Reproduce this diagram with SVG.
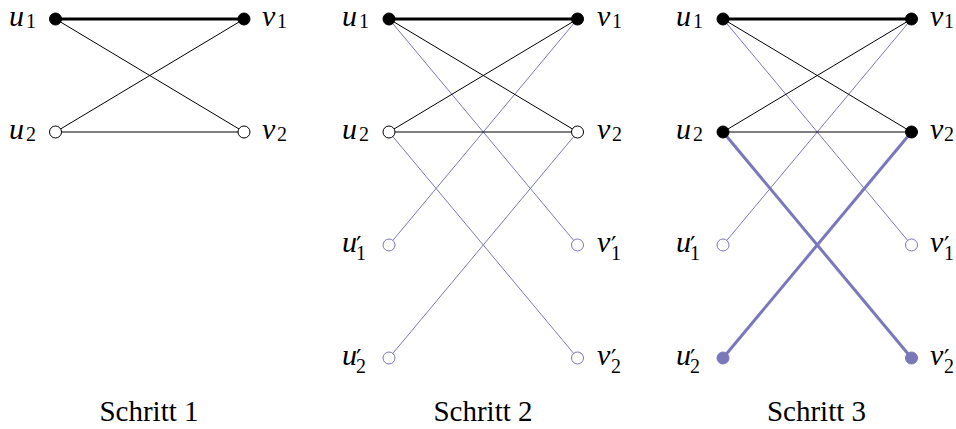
<svg xmlns="http://www.w3.org/2000/svg" width="956" height="429" viewBox="0 0 956 429">
<style>
text{font-family:"Liberation Serif","DejaVu Serif",serif;fill:#000}
.m{font-size:30px;font-style:italic}
.s{font-size:20px;font-style:normal}
.p{font-size:24px;font-style:normal;font-family:"DejaVu Serif",serif}
.cap{font-size:29px;text-anchor:middle}
.e{stroke:#000;stroke-width:1;fill:none}
.eb{stroke:#000;stroke-width:3;fill:none}
.ep{stroke:#7b77bb;stroke-width:1;fill:none}
.epb{stroke:#7b77bb;stroke-width:3;fill:none}
.nf{fill:#000;stroke:#000;stroke-width:1}
.nw{fill:#fff;stroke:#000;stroke-width:1}
.npw{fill:#fff;stroke:#7b77bb;stroke-width:1}
.npf{fill:#7b77bb;stroke:#7b77bb;stroke-width:1}
</style>
<g id="connectors">
<line class="eb" x1="55.5" y1="19" x2="244" y2="19"/>
<line class="e" x1="55.5" y1="19" x2="244" y2="132"/>
<line class="e" x1="55.5" y1="132" x2="244" y2="19"/>
<line class="e" x1="55.5" y1="132" x2="244" y2="132"/>
<line class="ep" x1="389" y1="19" x2="577.5" y2="245"/>
<line class="ep" x1="577.5" y1="19" x2="389" y2="245"/>
<line class="ep" x1="389" y1="132" x2="577.5" y2="358"/>
<line class="ep" x1="577.5" y1="132" x2="389" y2="358"/>
<line class="eb" x1="389" y1="19" x2="577.5" y2="19"/>
<line class="e" x1="389" y1="19" x2="577.5" y2="132"/>
<line class="e" x1="389" y1="132" x2="577.5" y2="19"/>
<line class="e" x1="389" y1="132" x2="577.5" y2="132"/>
<line class="ep" x1="723" y1="19" x2="911.5" y2="245"/>
<line class="ep" x1="911.5" y1="19" x2="723" y2="245"/>
<line class="epb" x1="723" y1="132" x2="911.5" y2="358"/>
<line class="epb" x1="911.5" y1="132" x2="723" y2="358"/>
<line class="eb" x1="723" y1="19" x2="911.5" y2="19"/>
<line class="e" x1="723" y1="19" x2="911.5" y2="132"/>
<line class="e" x1="723" y1="132" x2="911.5" y2="19"/>
<line class="e" x1="723" y1="132" x2="911.5" y2="132"/>
</g>
<g id="p1-u1"><circle class="nf" cx="55.5" cy="19" r="6"/><text class="m" x="9" y="25.5">u<tspan class="s" x="26" y="27.5">1</tspan></text></g>
<g id="p1-v1"><circle class="nf" cx="244" cy="19" r="6"/><text class="m" x="262" y="25.5">v<tspan class="s" x="277" y="27.5">1</tspan></text></g>
<g id="p1-u2"><circle class="nw" cx="55.5" cy="132" r="6"/><text class="m" x="9" y="138.5">u<tspan class="s" x="26" y="140.5">2</tspan></text></g>
<g id="p1-v2"><circle class="nw" cx="244" cy="132" r="6"/><text class="m" x="262" y="138.5">v<tspan class="s" x="277" y="140.5">2</tspan></text></g>
<g id="p2-u1"><circle class="nf" cx="389" cy="19" r="6"/><text class="m" x="342" y="25.5">u<tspan class="s" x="359" y="27.5">1</tspan></text></g>
<g id="p2-v1"><circle class="nf" cx="577.5" cy="19" r="6"/><text class="m" x="597" y="25.5">v<tspan class="s" x="612" y="27.5">1</tspan></text></g>
<g id="p2-u2"><circle class="nw" cx="389" cy="132" r="6"/><text class="m" x="342" y="138.5">u<tspan class="s" x="359" y="140.5">2</tspan></text></g>
<g id="p2-v2"><circle class="nw" cx="577.5" cy="132" r="6"/><text class="m" x="597" y="138.5">v<tspan class="s" x="612" y="140.5">2</tspan></text></g>
<g id="p2-u1p"><circle class="npw" cx="389" cy="245" r="6"/><text class="m" x="342" y="251.5">u<tspan class="p" x="356" y="254">′</tspan><tspan class="s" x="356" y="260">1</tspan></text></g>
<g id="p2-v1p"><circle class="npw" cx="577.5" cy="245" r="6"/><text class="m" x="597" y="251.5">v<tspan class="p" x="611" y="254">′</tspan><tspan class="s" x="611" y="260">1</tspan></text></g>
<g id="p2-u2p"><circle class="npw" cx="389" cy="358" r="6"/><text class="m" x="342" y="364.5">u<tspan class="p" x="356" y="367">′</tspan><tspan class="s" x="356" y="373">2</tspan></text></g>
<g id="p2-v2p"><circle class="npw" cx="577.5" cy="358" r="6"/><text class="m" x="597" y="364.5">v<tspan class="p" x="611" y="367">′</tspan><tspan class="s" x="611" y="373">2</tspan></text></g>
<g id="p3-u1"><circle class="nf" cx="723" cy="19" r="6"/><text class="m" x="676" y="25.5">u<tspan class="s" x="693" y="27.5">1</tspan></text></g>
<g id="p3-v1"><circle class="nf" cx="911.5" cy="19" r="6"/><text class="m" x="930" y="25.5">v<tspan class="s" x="944" y="27.5">1</tspan></text></g>
<g id="p3-u2"><circle class="nf" cx="723" cy="132" r="6"/><text class="m" x="676" y="138.5">u<tspan class="s" x="693" y="140.5">2</tspan></text></g>
<g id="p3-v2"><circle class="nf" cx="911.5" cy="132" r="6"/><text class="m" x="930" y="138.5">v<tspan class="s" x="944" y="140.5">2</tspan></text></g>
<g id="p3-u1p"><circle class="npw" cx="723" cy="245" r="6"/><text class="m" x="676" y="251.5">u<tspan class="p" x="690" y="254">′</tspan><tspan class="s" x="690" y="260">1</tspan></text></g>
<g id="p3-v1p"><circle class="npw" cx="911.5" cy="245" r="6"/><text class="m" x="930" y="251.5">v<tspan class="p" x="944" y="254">′</tspan><tspan class="s" x="944" y="260">1</tspan></text></g>
<g id="p3-u2p"><circle class="npf" cx="723" cy="358" r="6"/><text class="m" x="676" y="364.5">u<tspan class="p" x="690" y="367">′</tspan><tspan class="s" x="690" y="373">2</tspan></text></g>
<g id="p3-v2p"><circle class="npf" cx="911.5" cy="358" r="6"/><text class="m" x="930" y="364.5">v<tspan class="p" x="944" y="367">′</tspan><tspan class="s" x="944" y="373">2</tspan></text></g>
<g id="captions">
<text class="cap" x="149" y="421">Schritt 1</text>
<text class="cap" x="483" y="421">Schritt 2</text>
<text class="cap" x="816.5" y="421">Schritt 3</text>
</g>
</svg>
